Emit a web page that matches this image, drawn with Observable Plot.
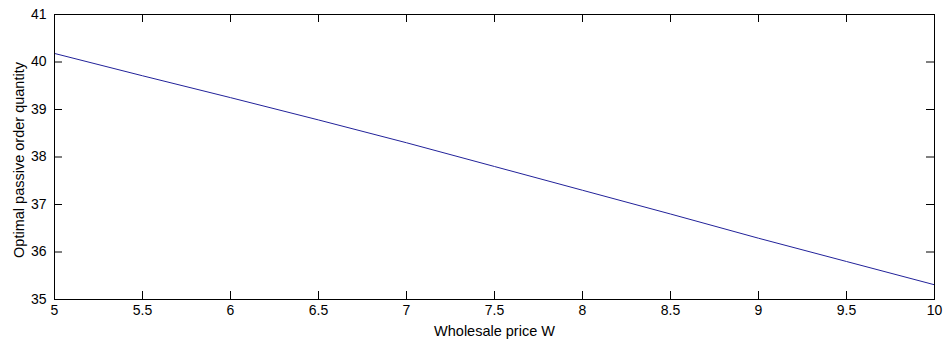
<!DOCTYPE html>
<html>
<head>
<meta charset="utf-8">
<script src="https://cdn.jsdelivr.net/npm/d3@7"></script>
<script src="https://cdn.jsdelivr.net/npm/@observablehq/plot@0.6"></script>
<style>
  html, body { margin: 0; padding: 0; background: #fff; }
  #chart { width: 946px; height: 342px; }
</style>
</head>
<body>
<div id="chart"></div>
<script>
// Data
const wholesalePrice = [5, 5.5, 6, 6.5, 7, 7.5, 8, 8.5, 9, 9.5, 10];
const orderQuantity = [40.18, 39.71, 39.25, 38.78, 38.30, 37.80, 37.30, 36.80, 36.29, 35.80, 35.31];
const xTicks = [5, 5.5, 6, 6.5, 7, 7.5, 8, 8.5, 9, 9.5, 10];
const yTicks = [35, 36, 37, 38, 39, 40, 41];
const xLabel = "Wholesale price W";
const yLabel = "Optimal passive order quantity";

const data = wholesalePrice.map((w, i) => ({w, q: orderQuantity[i]}));

const W = 946, H = 342;
const mL = 54, mR = 12, mT = 14, mB = 43;
const plotW = W - mL - mR, plotH = H - mT - mB;
const tickLen = 8;
const font = "'Liberation Sans', Arial, Helvetica, sans-serif";

const chart = Plot.plot({
  width: W,
  height: H,
  marginLeft: mL,
  marginRight: mR,
  marginTop: mT,
  marginBottom: mB,
  style: {fontFamily: font, fontSize: "14px", background: "#fff", color: "#000"},
  x: {domain: [5, 10]},
  y: {domain: [35, 41]},
  marks: [
    Plot.line(data, {x: "w", y: "q", stroke: "#22229a", strokeWidth: 1}),
    Plot.frame({stroke: "#000", strokeWidth: 1}),
    // inward ticks, bottom and top
    Plot.tickX(xTicks, {x: d => d, insetTop: plotH - tickLen, stroke: "#000"}),
    Plot.tickX(xTicks, {x: d => d, insetBottom: plotH - tickLen, stroke: "#000"}),
    // inward ticks, left and right
    Plot.tickY(yTicks, {y: d => d, insetRight: plotW - tickLen, stroke: "#000"}),
    Plot.tickY(yTicks, {y: d => d, insetLeft: plotW - tickLen, stroke: "#000"}),
    Plot.axisX(xTicks, {anchor: "bottom", tickSize: 0, tickPadding: 6, label: null, fontSize: 14, tickFormat: d => String(d)}),
    Plot.axisY(yTicks, {anchor: "left", tickSize: 0, tickPadding: 8, label: null, fontSize: 14, tickFormat: d => String(d)}),
    Plot.text([xLabel], {frameAnchor: "bottom", dy: 36, lineAnchor: "bottom", text: d => d, fontSize: 14.5, fill: "#000"}),
    Plot.text([yLabel], {frameAnchor: "left", dx: -31, dy: 3, rotate: -90, textAnchor: "middle", lineAnchor: "bottom", text: d => d, fontSize: 14.5, fill: "#000"})
  ]
});
document.getElementById("chart").appendChild(chart);
</script>
</body>
</html>
